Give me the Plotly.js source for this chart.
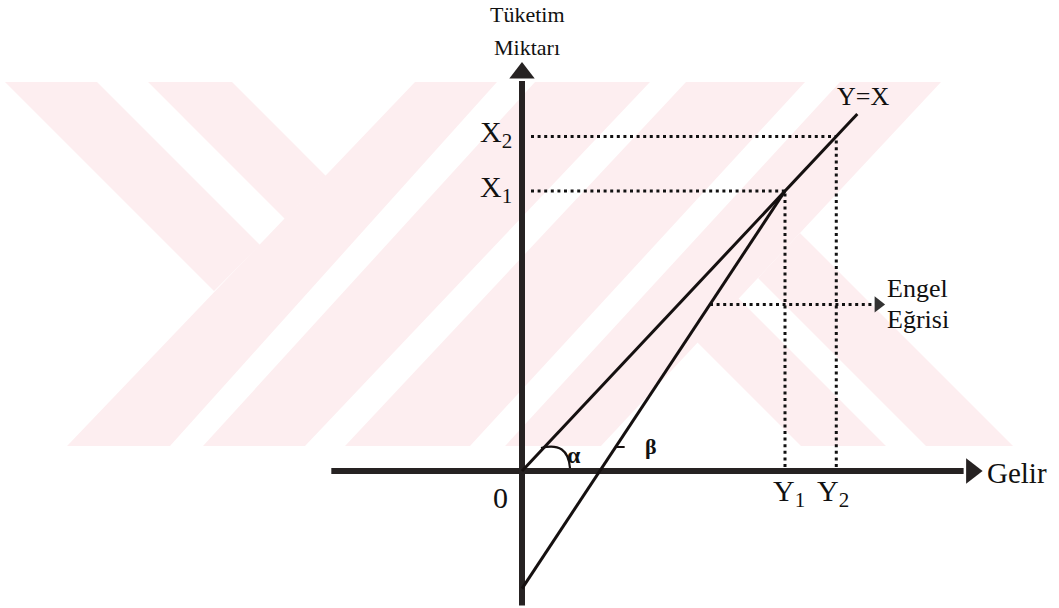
<!DOCTYPE html>
<html>
<head>
<meta charset="utf-8">
<script src="https://cdn.plot.ly/plotly-3.0.1.min.js"></script>
<style>html,body{margin:0;padding:0;background:#fff;}#chart{width:1059px;height:608px;}</style>
</head>
<body>
<div id="chart"></div>
<script>
// ---------- data (schematic values) ----------
const consumptionLevels = [10, 11.95];            // X1, X2
const incomeLevels      = [10, 11.95];            // Y1, Y2
const consumptionLabels = ['X<sub>1</sub>', 'X<sub>2</sub>'];
const incomeLabels      = ['Y<sub>1</sub>', 'Y<sub>2</sub>'];
const diagonalX = [0, 12.75];                     // Y = X line
const diagonalY = [0, 12.75];
const engelX = [0, 10];                           // Engel curve
const engelY = [-4.2, 10];
const engelPointerLevel = 5.95;
const engelPointerEnd = 13.73;
const incomeAxisExtent = [-7.25, 17.4];
const consumptionAxisExtent = [-4.8, 14.5];

// ---------- geometry of the page ----------
const W = 1059, H = 608;
const OX = 522, OY = 471;        // pixel position of the origin
const SX = 26.3, SY = 28.0;      // pixels per unit
const xr = [-OX / SX, (W - OX) / SX];
const yr = [-(H - OY) / SY, OY / SY];
const dx = p => p / SX, dy = p => p / SY;

const FONT = '"Liberation Serif", serif';
const INK = '#151010';
const AX = '#262222';

// ---------- watermark (background decoration, pixel polygons) ----------
const wm = [
  [[5,82],[97,82],[260,245],[214,291]],
  [[148,82],[232,82],[326,176],[285,219]],
  [[67,446],[170,446],[497,82],[415,82]],
  [[203,446],[305,446],[650,82],[535,82]],
  [[345,446],[470,446],[805,82],[686,82]],
  [[505,446],[601,446],[941,82],[840,82]],
  [[800,233],[1013,446],[926,446],[758,278]],
  [[738,298],[886,446],[801,446],[696,341]]
];
const shapes = wm.map(poly => ({
  type: 'path', xref: 'paper', yref: 'paper', layer: 'below',
  path: 'M' + poly.map(([x,y]) => (x / W).toFixed(4) + ',' + (1 - y / H).toFixed(4)).join('L') + 'Z',
  fillcolor: '#fdeef0', line: {width: 0}
}));

// alpha arc near the origin
const a0 = [dx(19), dy(23)], a1 = [dx(48), dy(3)], ac = [dx(46), dy(30)];
shapes.push({type:'path', xref:'x', yref:'y',
  path:`M${a0[0]},${a0[1]} Q${ac[0]},${ac[1]} ${a1[0]},${a1[1]}`,
  line:{color:INK, width:2.2}});
// beta tick on the Engel line
const betaY = dy(24);
const slope = (engelY[1]-engelY[0])/(engelX[1]-engelX[0]);
const betaX = (betaY - engelY[0]) / slope;
shapes.push({type:'line', xref:'x', yref:'y', x0:betaX, x1:betaX+dx(9), y0:betaY, y1:betaY,
  line:{color:INK, width:2}});

// ---------- traces ----------
const dotted = {color:'#111', width:3, dash:'3px,3.6px'};
const engelStartX = (engelPointerLevel - engelY[0]) / slope;
const traces = [
  // axes
  {x: [incomeAxisExtent[0], incomeAxisExtent[1] - dx(16)], y: [0, 0], mode:'lines', line:{color:AX, width:6}},
  {x: [0, 0], y: [consumptionAxisExtent[0], consumptionAxisExtent[1] - dy(16)], mode:'lines', line:{color:AX, width:6}},
  // arrow heads
  {x: [incomeAxisExtent[1] - dx(8)], y: [0], mode:'markers',
   marker:{symbol:'triangle-right', size:22, color:AX, line:{width:0}}},
  {x: [0], y: [consumptionAxisExtent[1] - dy(8)], mode:'markers',
   marker:{symbol:'triangle-up', size:22, color:AX, line:{width:0}}},
  // Y = X and Engel curve
  {x: diagonalX, y: diagonalY, mode:'lines', line:{color:INK, width:3}},
  {x: engelX, y: engelY, mode:'lines', line:{color:INK, width:3}},
];
consumptionLevels.forEach((lv, i) => {
  traces.push({x:[dx(9), incomeLevels[i]], y:[lv, lv], mode:'lines', line:dotted});
  traces.push({x:[incomeLevels[i], incomeLevels[i]], y:[dy(4), lv], mode:'lines', line:dotted});
});
traces.push({x:[engelStartX, engelPointerEnd - dx(8)], y:[engelPointerLevel, engelPointerLevel], mode:'lines', line:dotted});
traces.push({x:[engelPointerEnd - dx(5)], y:[engelPointerLevel], mode:'markers',
  marker:{symbol:'triangle-right', size:14, color:'#333', line:{width:0}}});

// ---------- annotations ----------
const ann = [];
const txt = (t, x, y, size, opts) => Object.assign({text:t, x, y, xref:'x', yref:'y', showarrow:false,
  font:{family:FONT, size, color:'#111'}, xanchor:'center', yanchor:'middle'}, opts || {});

ann.push(txt('Tüketim', dx(5), consumptionAxisExtent[1] + dy(51), 22));
ann.push(txt('Miktarı', dx(5), consumptionAxisExtent[1] + dy(18), 22));
ann.push(txt('Gelir', incomeAxisExtent[1] + dx(5), 0, 29, {xanchor:'left', yshift:-2}));
ann.push(txt('0', dx(-22), dy(-26), 30));
consumptionLevels.forEach((lv, i) => ann.push(txt(consumptionLabels[i], dx(-8), lv, 30, {xanchor:'right', yshift:2})));
incomeLevels.forEach((lv, i) => ann.push(txt(incomeLabels[i], lv, dy(-22), 30, {xshift: i === 0 ? 4 : -3})));
ann.push(txt('Y=X', diagonalX[1] + dx(6), diagonalY[1] + dy(18), 26));
ann.push(txt('Engel', engelPointerEnd + dx(2), engelPointerLevel + dy(16), 26, {xanchor:'left'}));
ann.push(txt('Eğrisi', engelPointerEnd + dx(2), engelPointerLevel - dy(15), 26, {xanchor:'left'}));
ann.push(txt('<b>α</b>', dx(52), dy(16), 24));
ann.push(txt('<b>β</b>', betaX + dx(35), betaY + dy(1), 22));

const layout = {
  width: W, height: H,
  margin: {l:0, r:0, t:0, b:0, pad:0},
  paper_bgcolor:'#ffffff', plot_bgcolor:'rgba(0,0,0,0)',
  showlegend:false,
  xaxis:{range:xr, visible:false, fixedrange:true},
  yaxis:{range:yr, visible:false, fixedrange:true},
  shapes, annotations: ann
};
Plotly.newPlot('chart', traces, layout, {staticPlot:true, displayModeBar:false});
</script>
</body>
</html>
